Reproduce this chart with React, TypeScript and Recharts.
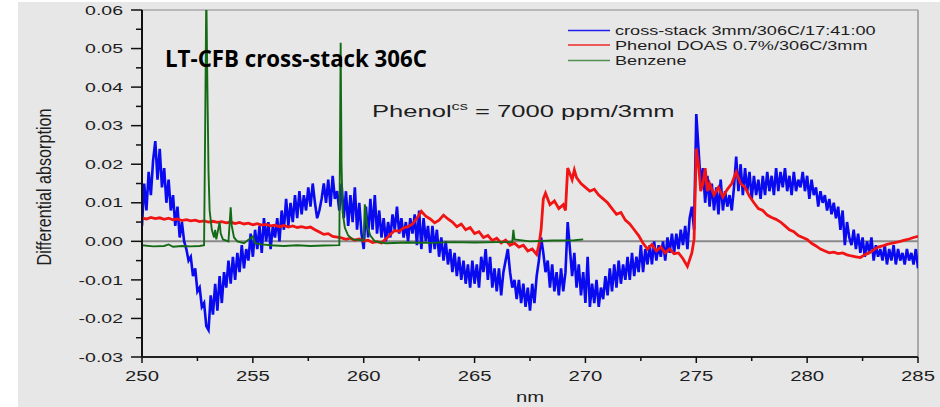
import React from "react";
import { LineChart, Line, XAxis, YAxis, ReferenceLine } from "recharts";

// ---- Axis ticks ----
const xTicks = [250, 252.5, 255, 257.5, 260, 262.5, 265, 267.5, 270, 272.5, 275, 277.5, 280, 282.5, 285];
const yTicks = [-0.03, -0.025, -0.02, -0.015, -0.01, -0.005, 0, 0.005, 0.01, 0.015, 0.02, 0.025, 0.03, 0.035, 0.04, 0.045, 0.05, 0.055, 0.06];

// ---- Series names ----
const seriesNames = ["cross-stack 3mm/306C/17:41:00", "Phenol DOAS 0.7%/306C/3mm", "Benzene"];
const seriesColors = ["#0a0af0", "#f01414", "#156b15"];

// ---- Blue: cross-stack, sampled every 0.1 nm from 250.0 ----
const blueStartNm = 250;
const blueStepNm = 0.1;
const blueValues = [
  0.004, 0.015, 0.008, 0.018, 0.012, 0.021, 0.026, 0.016, 0.024, 0.014,
  0.019, 0.010, 0.016, 0.008, 0.012, 0.004, 0.009, 0.001, 0.005, 0.000,
  -0.002, -0.005, -0.004, -0.009, -0.007, -0.013, -0.012, -0.017, -0.016, -0.022,
  -0.023, -0.014, -0.019, -0.011, -0.018, -0.009, -0.016, -0.008, -0.012, -0.005,
  -0.011, -0.004, -0.010, -0.003, -0.008, -0.001, -0.007, -0.002, -0.005, 0.002,
  -0.004, 0.003, -0.002, 0.004, -0.003, 0.006, 0.000, 0.005, -0.002, 0.004,
  0.001, 0.006, 0.000, 0.008, 0.003, 0.011, 0.004, 0.010, 0.005, 0.012,
  0.006, 0.013, 0.007, 0.012, 0.008, 0.014, 0.009, 0.015, 0.010, 0.006,
  0.008, 0.011, 0.015, 0.010, 0.016, 0.009, 0.017, 0.011, 0.013, 0.008,
  0.015, 0.006, 0.013, 0.004, 0.012, 0.005, 0.014, 0.003, 0.010, 0.002,
  -0.002, 0.009, 0.001, 0.011, 0.003, 0.012, 0.002, 0.008, 0.001, 0.006,
  0.000, 0.005, 0.001, 0.007, 0.003, 0.009, 0.002, 0.006, 0.001, 0.005,
  0.000, 0.006, 0.002, 0.007, -0.001, 0.008, -0.002, 0.006, 0.000, 0.004,
  -0.003, 0.004, -0.002, 0.003, -0.004, 0.001, -0.005, 0.000, -0.006, -0.002,
  -0.008, -0.003, -0.009, -0.004, -0.010, -0.005, -0.011, -0.006, -0.012, -0.005,
  -0.011, -0.006, -0.012, -0.004, -0.008, -0.002, -0.010, -0.004, -0.012, -0.007,
  -0.013, -0.007, -0.014, -0.008, -0.005, -0.002, -0.008, -0.012, -0.010, -0.015,
  -0.010, -0.016, -0.011, -0.017, -0.012, -0.018, -0.011, -0.016, -0.009, -0.005,
  0.001, -0.003, -0.008, -0.005, -0.012, -0.006, -0.013, -0.008, -0.014, -0.007,
  -0.013, -0.008, 0.005, -0.002, -0.009, -0.003, -0.012, -0.006, -0.014, -0.008,
  -0.016, -0.004, -0.017, -0.011, -0.016, -0.010, -0.017, -0.012, -0.015, -0.009,
  -0.014, -0.007, -0.013, -0.006, -0.012, -0.005, -0.011, -0.006, -0.010, -0.004,
  -0.010, -0.003, -0.009, -0.004, -0.008, -0.001, -0.008, -0.002, -0.006, -0.001,
  -0.006, 0.000, -0.005, -0.001, -0.004, 0.000, -0.005, 0.001, -0.003, 0.002,
  -0.003, 0.002, -0.002, 0.003, -0.001, 0.004, -0.002, 0.006, 0.009, 0.003,
  0.033, 0.024, 0.015, 0.019, 0.010, 0.017, 0.009, 0.015, 0.008, 0.014,
  0.007, 0.016, 0.008, 0.013, 0.009, 0.012, 0.008, 0.014, 0.022, 0.013,
  0.020, 0.012, 0.019, 0.013, 0.018, 0.011, 0.017, 0.012, 0.016, 0.011,
  0.017, 0.012, 0.018, 0.013, 0.017, 0.012, 0.019, 0.013, 0.018, 0.014,
  0.019, 0.013, 0.017, 0.012, 0.018, 0.013, 0.016, 0.014, 0.018, 0.013,
  0.017, 0.011, 0.016, 0.012, 0.014, 0.009, 0.013, 0.010, 0.012, 0.008,
  0.011, 0.007, 0.010, 0.006, 0.009, 0.003, 0.008, -0.001, 0.005, 0.001,
  -0.001, 0.003, -0.002, 0.002, -0.003, 0.001, -0.004, 0.000, -0.003, 0.001,
  -0.005, -0.001, -0.004, -0.002, -0.005, -0.001, -0.006, -0.002, -0.005, -0.001,
  -0.006, -0.002, -0.005, -0.003, -0.006, -0.002, -0.005, -0.003, -0.006, -0.002,
  -0.007,
];

// ---- Red: Phenol DOAS ----
const redNm = [
  250.0, 250.2, 250.4, 250.6, 250.8, 251.0, 251.2, 251.4, 251.6, 251.8,
  252.0, 252.2, 252.4, 252.6, 252.8, 253.0, 253.2, 253.4, 253.6, 253.8,
  254.0, 254.2, 254.4, 254.6, 254.8, 255.0, 255.2, 255.4, 255.6, 255.8,
  256.0, 256.2, 256.4, 256.6, 256.8, 257.0, 257.2, 257.4, 257.6, 257.8,
  258.0, 258.2, 258.4, 258.6, 258.8, 259.0, 259.2, 259.4, 259.6, 259.8,
  260.0, 260.2, 260.4, 260.6, 260.8, 261.0, 261.2, 261.4, 261.6, 261.8,
  262.0, 262.2, 262.4, 262.6, 262.8, 263.0, 263.2, 263.4, 263.6, 263.8,
  264.0, 264.2, 264.4, 264.6, 264.8, 265.0, 265.2, 265.4, 265.6, 265.8,
  266.0, 266.2, 266.4, 266.6, 266.8, 267.0, 267.2, 267.4, 267.6, 267.8,
  267.9, 268.0, 268.1, 268.2, 268.4, 268.6, 268.8, 269.0, 269.1, 269.2,
  269.3, 269.4, 269.5, 269.6, 269.8, 270.0, 270.2, 270.4, 270.6, 270.8,
  271.0, 271.2, 271.4, 271.6, 271.8, 272.0, 272.2, 272.4, 272.6, 272.8,
  273.0, 273.2, 273.4, 273.6, 273.8, 274.0, 274.2, 274.4, 274.6, 274.8,
  274.9, 275.0, 275.1, 275.2, 275.3, 275.4, 275.5, 275.6, 275.8, 276.0,
  276.2, 276.4, 276.6, 276.8, 277.0, 277.2, 277.4, 277.6, 277.8, 278.0,
  278.2, 278.4, 278.6, 278.8, 279.0, 279.2, 279.4, 279.6, 279.8, 280.0,
  280.2, 280.4, 280.6, 280.8, 281.0, 281.2, 281.4, 281.6, 281.8, 282.0,
  282.2, 282.4, 282.6, 282.8, 283.0, 283.2, 283.4, 283.6, 283.8, 284.0,
  284.2, 284.4, 284.6, 284.8, 285.0,
];
const redValues = [
  0.0060, 0.0058, 0.0062, 0.0059, 0.0061, 0.0057, 0.0060, 0.0056, 0.0058, 0.0054,
  0.0056, 0.0053, 0.0055, 0.0051, 0.0053, 0.0050, 0.0052, 0.0049, 0.0051, 0.0048,
  0.0050, 0.0046, 0.0049, 0.0045, 0.0047, 0.0043, 0.0046, 0.0042, 0.0044, 0.0040,
  0.0042, 0.0038, 0.0041, 0.0037, 0.0040, 0.0036, 0.0038, 0.0035, 0.0037, 0.0030,
  0.0024, 0.0018, 0.0020, 0.0013, 0.0011, 0.0009, 0.0005, 0.0008, 0.0003, 0.0006,
  0.0001, 0.0003, -0.0003, -0.0001, -0.0004, 0.0006, 0.0018, 0.0028, 0.0026, 0.0035,
  0.0038, 0.0045, 0.0060, 0.0078, 0.0065, 0.0058, 0.0048, 0.0055, 0.0068, 0.0058,
  0.0050, 0.0038, 0.0045, 0.0030, 0.0036, 0.0020, 0.0025, 0.0010, 0.0015, 0.0002,
  0.0008, -0.0004, 0.0003, -0.0010, -0.0005, -0.0015, -0.0010, -0.0025, -0.0020, -0.0034,
  -0.0010, 0.0030, 0.0110, 0.0125, 0.0095, 0.0105, 0.0085, 0.0095, 0.0080, 0.0190,
  0.0175, 0.0160, 0.0185, 0.0165, 0.0150, 0.0140, 0.0130, 0.0135, 0.0120, 0.0110,
  0.0100, 0.0085, 0.0070, 0.0075, 0.0055, 0.0045, 0.0030, 0.0015, -0.0005, -0.0020,
  -0.0008, -0.0025, -0.0015, -0.0030, -0.0020, -0.0032, -0.0030, -0.0045, -0.0065, -0.0030,
  0.0005, 0.0240, 0.0200, 0.0130, 0.0150, 0.0190, 0.0130, 0.0150, 0.0120, 0.0140,
  0.0115, 0.0135, 0.0150, 0.0180, 0.0150, 0.0140, 0.0117, 0.0100, 0.0085, 0.0080,
  0.0068, 0.0062, 0.0057, 0.0050, 0.0040, 0.0030, 0.0025, 0.0015, 0.0010, 0.0005,
  -0.0005, -0.0012, -0.0020, -0.0025, -0.0030, -0.0028, -0.0032, -0.0030, -0.0035, -0.0038,
  -0.0040, -0.0042, -0.0035, -0.0030, -0.0022, -0.0015, -0.0012, -0.0008, -0.0005, -0.0003,
  0.0000, 0.0003, 0.0006, 0.0010, 0.0013,
];

// ---- Green: Benzene ----
const greenNm = [
  250.0, 250.5, 251.0, 251.2, 251.4, 251.8, 252.2, 252.6, 252.8, 252.85,
  252.9, 252.95, 253.0, 253.05, 253.15, 253.25, 253.3, 253.35, 253.5, 253.55,
  253.65, 253.9, 254.0, 254.05, 254.15, 254.3, 254.6, 255.0, 255.1, 255.4,
  255.8, 256.4, 257.0, 257.6, 258.2, 258.9, 258.93, 258.96, 259.0, 259.05,
  259.15, 259.3, 259.5, 260.0, 260.05, 260.15, 260.3, 260.5, 261.0, 262.0,
  263.0, 264.0, 265.0, 266.0, 266.7, 266.75, 266.8, 267.5, 268.5, 269.5,
  269.9,
];
const greenValues = [
  -0.0010, -0.0013, -0.0012, -0.0008, -0.0014, -0.0012, -0.0013, -0.0012, -0.0010, 0.0300,
  0.0650, 0.0400, 0.0180, 0.0080, 0.0030, 0.0010, 0.0030, 0.0005, 0.0050, 0.0020,
  0.0005, 0.0000, 0.0088, 0.0040, 0.0010, 0.0000, -0.0005, 0.0013, -0.0005, -0.0008,
  -0.0010, -0.0012, -0.0010, -0.0012, -0.0011, -0.0010, 0.0250, 0.0515, 0.0200, 0.0075,
  0.0035, 0.0015, 0.0005, 0.0002, 0.0096, 0.0040, 0.0015, 0.0000, -0.0005, -0.0003,
  -0.0004, -0.0002, -0.0003, -0.0002, -0.0002, 0.0030, 0.0005, 0.0000, 0.0002, 0.0003,
  0.0005,
];

const blueData = blueValues.map((v, i) => ({ nm: Number((blueStartNm + i * blueStepNm).toFixed(1)), v }));
const redData = redNm.map((nm, i) => ({ nm, v: redValues[i] }));
const greenData = greenNm.map((nm, i) => ({ nm, v: greenValues[i] }));

const TEXT = "#1e1e1e";
const FONT = "'Liberation Sans', Arial, sans-serif";

const YTick = (props: any) => {
  const { x, y, payload } = props;
  const v = payload.value as number;
  const major = Math.round(v * 1000) % 10 === 0;
  return (
    <g>
      <line x1={x - (major ? 11 : 6)} x2={x} y1={y} y2={y} stroke="#111" strokeWidth={1.5} />
      {major && (
        <g transform={`translate(${x - 19},${y}) scale(1.5,1)`}>
          <text x={0} y={0} dy="0.36em" textAnchor="end" fontSize={13} fontFamily={FONT} fill={TEXT}>
            {v.toFixed(2)}
          </text>
        </g>
      )}
    </g>
  );
};

const XTick = (props: any) => {
  const { x, y, payload } = props;
  const v = payload.value as number;
  const major = v % 5 === 0;
  return (
    <g>
      <line x1={x} x2={x} y1={y} y2={y + (major ? 6 : 4)} stroke="#111" strokeWidth={1.5} />
      {major && (
        <g transform={`translate(${x},${y + 19}) scale(1.45,1)`}>
          <text x={0} y={0} dy="0.36em" textAnchor="middle" fontSize={14} fontFamily={FONT} fill={TEXT}>
            {String(v)}
          </text>
        </g>
      )}
    </g>
  );
};

export default function App() {
  return (
    <div style={{ position: "absolute", left: 0, top: 0, width: 940, height: 407, background: "#ffffff", overflow: "hidden" }}>
      <div style={{ position: "absolute", left: 18, top: 2, width: 922, height: 405, background: "#e7e7e7" }} />
      <div style={{ position: "absolute", left: 0, top: 0 }}>
        <LineChart width={940} height={407} margin={{ top: 10, right: 22, left: 0, bottom: 0 }}>
          <XAxis
            dataKey="nm"
            type="number"
            domain={[250, 285]}
            ticks={xTicks}
            interval={0}
            allowDataOverflow
            height={50}
            tickSize={0}
            tickMargin={0}
            tickLine={false}
            axisLine={{ stroke: "#222", strokeWidth: 2 }}
            tick={(p: any) => <XTick {...p} />}
          />
          <YAxis
            type="number"
            domain={[-0.03, 0.06]}
            ticks={yTicks}
            interval={0}
            allowDataOverflow
            width={142}
            tickSize={0}
            tickMargin={0}
            tickLine={false}
            axisLine={{ stroke: "#111", strokeWidth: 2 }}
            tick={(p: any) => <YTick {...p} />}
          />
          <ReferenceLine y={0.06} stroke="#b8b8b8" strokeWidth={2} />
          <ReferenceLine x={285} stroke="#a9a9a9" strokeWidth={2} />
          <ReferenceLine y={0} stroke="#8a8a8a" strokeWidth={2} />
          <Line data={blueData} dataKey="v" name={seriesNames[0]} type="linear" stroke={seriesColors[0]} strokeWidth={2.6} dot={false} isAnimationActive={false} />
          <Line data={redData} dataKey="v" name={seriesNames[1]} type="linear" stroke={seriesColors[1]} strokeWidth={2.8} dot={false} isAnimationActive={false} />
          <Line data={greenData} dataKey="v" name={seriesNames[2]} type="linear" stroke={seriesColors[2]} strokeWidth={1.9} dot={false} isAnimationActive={false} />
        </LineChart>
      </div>
      <svg width={940} height={407} style={{ position: "absolute", left: 0, top: 0, pointerEvents: "none" }}>
        {/* Y axis title */}
        <g transform="translate(50.5,187) scale(1.4,1) rotate(-90)">
          <text x={0} y={0} textAnchor="middle" fontSize={15} fontFamily={FONT} fill={TEXT} textLength={157} lengthAdjust="spacingAndGlyphs">
            Differential absorption
          </text>
        </g>
        {/* X axis title */}
        <g transform="translate(530,402) scale(1.45,1)">
          <text x={0} y={0} textAnchor="middle" fontSize={14} fontFamily={FONT} fill={TEXT}>nm</text>
        </g>
        {/* Chart title */}
        <text x={165} y={67} fontSize={23} fontWeight="bold" fontFamily="'Open Sans', 'Noto Sans', sans-serif" fill="#000" textLength={262} lengthAdjust="spacingAndGlyphs">
          LT-CFB cross-stack 306C
        </text>
        {/* Annotation */}
        <g transform="translate(372,117) scale(1.55,1)">
          <text x={0} y={0} fontSize={16.5} fontFamily={FONT} fill={TEXT}>
            Phenol
            <tspan dy={-7} fontSize={10.5}>cs</tspan>
            <tspan dy={7}> = 7000 ppm/3mm</tspan>
          </text>
        </g>
        {/* Legend */}
        {seriesNames.map((name, i) => {
          const ly = [30.5, 45, 60.5][i];
          return (
            <g key={name}>
              <line x1={568} x2={610} y1={ly} y2={ly} stroke={seriesColors[i]} strokeWidth={1.6} opacity={i === 2 ? 0.7 : 0.9} />
              <g transform={`translate(615,${ly}) scale(1.45,1)`}>
                <text x={0} y={0} dy="0.36em" fontSize={12.5} fontFamily={FONT} fill={TEXT}>{name}</text>
              </g>
            </g>
          );
        })}
      </svg>
    </div>
  );
}
